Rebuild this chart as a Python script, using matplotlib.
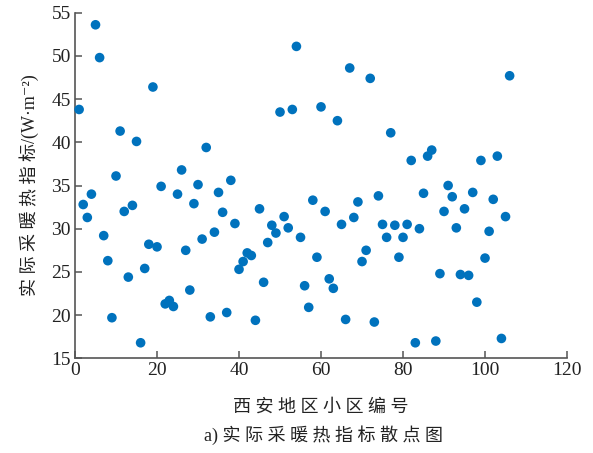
import matplotlib
matplotlib.use("Agg")
import matplotlib.pyplot as plt

# 小区编号与实际采暖热指标 (W/m^2)
district_ids = list(range(1, 107))
heat_index = [
    43.8, 32.8, 31.3, 34.0, 53.6, 49.8, 29.2, 26.3, 19.7, 36.1,
    41.3, 32.0, 24.4, 32.7, 40.1, 16.8, 25.4, 28.2, 46.4, 27.9,
    34.9, 21.3, 21.7, 21.0, 34.0, 36.8, 27.5, 22.9, 32.9, 35.1,
    28.8, 39.4, 19.8, 29.6, 34.2, 31.9, 20.3, 35.6, 30.6, 25.3,
    26.2, 27.2, 26.9, 19.4, 32.3, 23.8, 28.4, 30.4, 29.5, 43.5,
    31.4, 30.1, 43.8, 51.1, 29.0, 23.4, 20.9, 33.3, 26.7, 44.1,
    32.0, 24.2, 23.1, 42.5, 30.5, 19.5, 48.6, 31.3, 33.1, 26.2,
    27.5, 47.4, 19.2, 33.8, 30.5, 29.0, 41.1, 30.4, 26.7, 29.0,
    30.5, 37.9, 16.8, 30.0, 34.1, 38.4, 39.1, 17.0, 24.8, 32.0,
    35.0, 33.7, 30.1, 24.7, 32.3, 24.6, 34.2, 21.5, 37.9, 26.6,
    29.7, 33.4, 38.4, 17.3, 31.4, 47.7,
]

x_ticks = [0, 20, 40, 60, 80, 100, 120]
y_ticks = [15, 20, 25, 30, 35, 40, 45, 50, 55]

FAMILY = ["Liberation Serif", "Noto Sans CJK SC", "DejaVu Sans"]
GAP = " "


def spaced(s):
    # 字间加空，模仿排版中的字距
    return GAP.join(s)


fig = plt.figure(figsize=(5.93, 4.53), dpi=100)
ax = fig.add_axes([0.1265, 0.209, 0.8297, 0.763])

ax.scatter(district_ids, heat_index, s=48, color="#0072BD", edgecolors="none",
           clip_on=False, zorder=3)

ax.set_xlim(0, 120)
ax.set_ylim(15, 55)
ax.set_xticks(x_ticks)
ax.set_yticks(y_ticks)

for side in ["top", "right"]:
    ax.spines[side].set_visible(False)
for side in ["left", "bottom"]:
    ax.spines[side].set_color("#555555")
    ax.spines[side].set_linewidth(1.2)

ax.tick_params(direction="in", length=5, width=1.1, color="#555555",
               labelsize=14, labelcolor="#222222", pad=3)
for lab in ax.get_xticklabels() + ax.get_yticklabels():
    lab.set_family("Liberation Serif")

ax.set_xlabel(spaced("西安地区小区编号"), family=FAMILY, fontsize=13,
              color="#222222", labelpad=14)
ax.set_ylabel(spaced("实际采暖热指标") + "/(W·m⁻²)", family=FAMILY,
              fontsize=13, color="#222222", labelpad=9)

fig.text(0.545, 0.04, "a) " + spaced("实际采暖热指标散点图"), family=FAMILY,
         fontsize=13, color="#222222", ha="center", va="center")

fig.savefig("out.png", dpi=100, facecolor="white")
